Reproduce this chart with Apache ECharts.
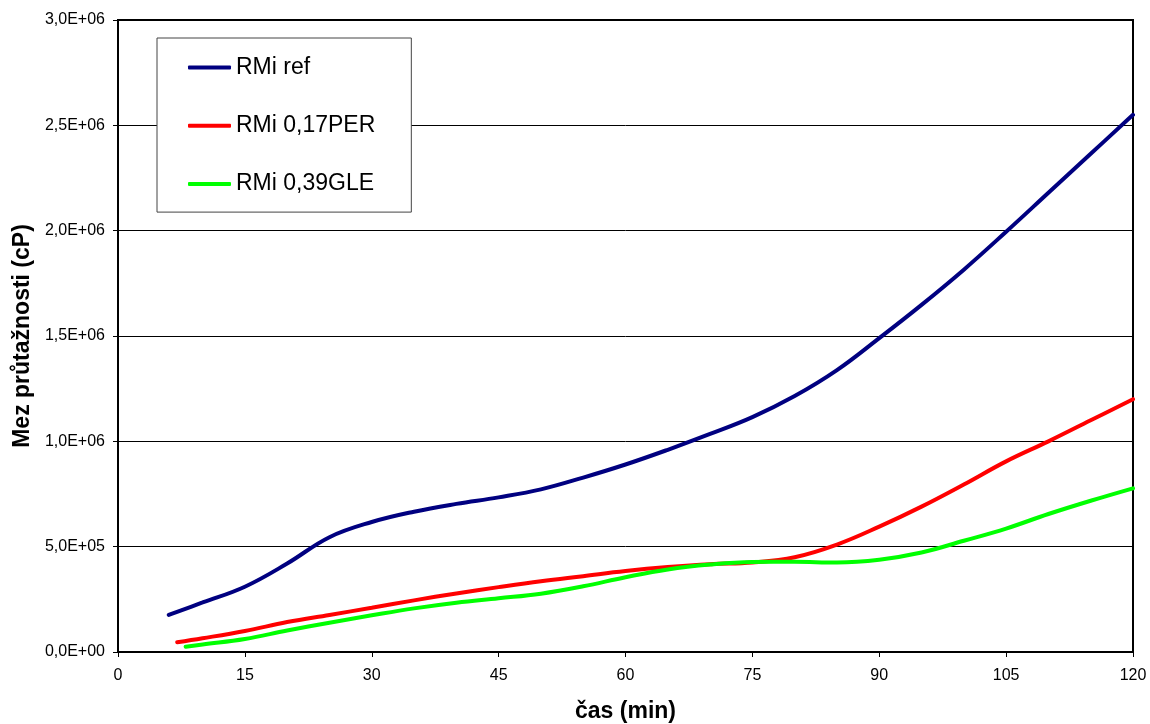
<!DOCTYPE html>
<html>
<head>
<meta charset="utf-8">
<script src="https://cdn.jsdelivr.net/npm/echarts@6/dist/echarts.min.js"></script>
<style>
html,body{margin:0;padding:0;background:#fff;}
#chart{width:1150px;height:724px;}
</style>
</head>
<body>
<div id="chart"></div>
<script>
const seriesNames = ['RMi ref', 'RMi 0,17PER', 'RMi 0,39GLE'];
const refData = [[6,1.76e5],[10,2.35e5],[15,3.1e5],[20,4.2e5],[25,5.45e5],[30,6.17e5],[35,6.66e5],[40,7.03e5],[45,7.34e5],[50,7.72e5],[55,8.28e5],[60,8.9e5],[65,9.6e5],[70,1.035e6],[75,1.115e6],[80,1.215e6],[85,1.338e6],[90,1.49e6],[95,1.648e6],[100,1.815e6],[105,1.995e6],[110,2.18e6],[115,2.365e6],[120,2.55e6]];
const perData = [[7,4.6e4],[10,6.5e4],[15,1.0e5],[20,1.42e5],[25,1.76e5],[30,2.1e5],[35,2.45e5],[40,2.78e5],[45,3.08e5],[50,3.36e5],[55,3.6e5],[60,3.84e5],[65,4.03e5],[70,4.17e5],[75,4.25e5],[80,4.5e5],[85,5.1e5],[90,5.95e5],[95,6.9e5],[100,7.95e5],[105,9.05e5],[110,1.0e6],[115,1.1e6],[120,1.2e6]];
const gleData = [[8,2.5e4],[10,3.6e4],[15,6.2e4],[20,1.02e5],[25,1.39e5],[30,1.74e5],[35,2.07e5],[40,2.34e5],[45,2.55e5],[50,2.77e5],[55,3.12e5],[60,3.55e5],[65,3.92e5],[70,4.15e5],[75,4.27e5],[80,4.28e5],[85,4.25e5],[90,4.38e5],[95,4.72e5],[100,5.28e5],[105,5.86e5],[110,6.55e5],[115,7.18e5],[120,7.77e5]];
const colors = ['#000080', '#ff0000', '#00ff00'];
const xTitle = 'čas (min)';
const yTitle = 'Mez průtažnosti (cP)';

function fmtY(v){
  if (v === 0) return '0,0E+00';
  const e = Math.floor(Math.log10(v) + 1e-9);
  const m = v / Math.pow(10, e);
  const es = (e < 10 ? '0' : '') + e;
  return m.toFixed(1).replace('.', ',') + 'E+' + es;
}

const chart = echarts.init(document.getElementById('chart'));
const font = "'Liberation Sans', Arial, sans-serif";
chart.setOption({
  backgroundColor: '#fff',
  animation: false,
  textStyle: { fontFamily: font },
  grid: { left: 118, right: 17, top: 20, bottom: 72, show: true, borderColor: '#000', borderWidth: 2, containLabel: false, outerBoundsMode: 'none' },
  legend: {
    orient: 'vertical', left: 157, top: 38,
    padding: [16.5, 36, 15, 31],
    itemGap: 32.3, itemWidth: 43, itemHeight: 4, itemTextGap: 5,
    icon: 'roundRect',
    borderColor: '#444', borderWidth: 1,
    backgroundColor: '#fff',
    textStyle: { fontSize: 23, lineHeight: 26, color: '#000', fontFamily: font },
    data: seriesNames
  },
  xAxis: {
    type: 'value', min: 0, max: 120, interval: 15,
    name: xTitle, nameLocation: 'middle', nameGap: 48,
    nameTextStyle: { fontSize: 23, fontWeight: 'bold', color: '#000', fontFamily: font },
    axisLine: { lineStyle: { color: '#000', width: 2 } },
    axisTick: { show: true, inside: false, length: 5, lineStyle: { color: '#000', width: 1 } },
    axisLabel: { color: '#000', fontSize: 16, margin: 16, fontFamily: font },
    splitLine: { show: false }
  },
  yAxis: {
    type: 'value', min: 0, max: 3e6, interval: 5e5,
    name: yTitle, nameLocation: 'middle', nameGap: 84,
    nameTextStyle: { fontSize: 23, fontWeight: 'bold', color: '#000', fontFamily: font },
    axisLine: { lineStyle: { color: '#000', width: 2 } },
    axisTick: { show: true, inside: false, length: 5, lineStyle: { color: '#000', width: 1 } },
    axisLabel: { color: '#000', fontSize: 16, margin: 13, formatter: fmtY, fontFamily: font },
    splitLine: { show: true, lineStyle: { color: '#000', width: 1 } }
  },
  series: [
    { name: seriesNames[0], type: 'line', data: refData, smooth: 0.4, showSymbol: false, color: colors[0], lineStyle: { width: 4, color: colors[0], cap: 'round' }, z: 3 },
    { name: seriesNames[1], type: 'line', data: perData, smooth: 0.4, showSymbol: false, color: colors[1], lineStyle: { width: 4, color: colors[1], cap: 'round' }, z: 2 },
    { name: seriesNames[2], type: 'line', data: gleData, smooth: 0.4, showSymbol: false, color: colors[2], lineStyle: { width: 4, color: colors[2], cap: 'round' }, z: 4 }
  ]
});
</script>
</body>
</html>
